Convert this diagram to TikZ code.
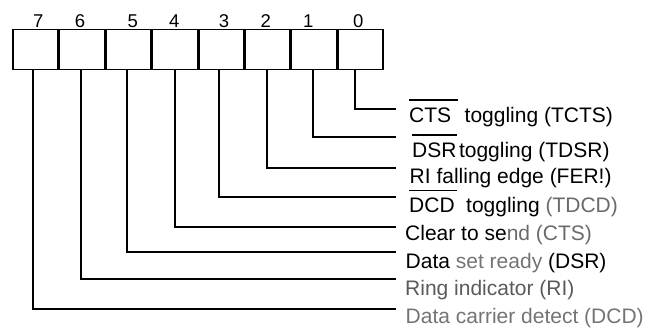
\documentclass[tikz,border=0pt]{standalone}
\usepackage{fontspec}
\setmainfont{Liberation Sans}
\definecolor{fadeA}{HTML}{6A6A6A}
\definecolor{fadeB}{HTML}{5A5A5A}
\definecolor{fadeC}{HTML}{747474}
\newlength\ovlw
\newcommand\ovl[2]{\settowidth\ovlw{#1}\addtolength\ovlw{#2}\rlap{\rule[21.5pt]{\ovlw}{1.4pt}}#1}
\begin{document}
\begin{tikzpicture}[x=1pt,y=-1pt,
  cell/.style={draw,line width=1.5pt,minimum width=44.94pt,minimum height=40pt,inner sep=0pt,outer sep=0pt},
  bitnum/.style={font=\fontsize{18.5}{18.5}\selectfont,inner sep=0pt},
  lbl/.style={font=\fontsize{21}{21}\selectfont,inner sep=0pt,anchor=base west},
  conn/.style={line width=1.6pt}]
\useasboundingbox (0,0) rectangle (647,329);
% register cells
\node[cell] (c7) at (35.47,49.3) {};
\node[cell] (c6) at (81.91,49.3) {};
\node[cell] (c5) at (128.35,49.3) {};
\node[cell] (c4) at (174.79,49.3) {};
\node[cell] (c3) at (221.23,49.3) {};
\node[cell] (c2) at (267.67,49.3) {};
\node[cell] (c1) at (314.11,49.3) {};
\node[cell] (c0) at (360.55,49.3) {};
% bit numbers
\node[bitnum] (d7) at (38.3,21) {7};
\node[bitnum] (d6) at (80,21) {6};
\node[bitnum] (d5) at (132.7,21) {5};
\node[bitnum] (d4) at (174.3,21) {4};
\node[bitnum] (d3) at (224,21) {3};
\node[bitnum] (d2) at (265.7,21) {2};
\node[bitnum] (d1) at (308.3,21) {1};
\node[bitnum] (d0) at (358.3,21) {0};
% connector ends
\coordinate (e0) at (396,109);
\coordinate (e1) at (396,137);
\coordinate (e2) at (396,168);
\coordinate (e3) at (396,197);
\coordinate (e4) at (396,227);
\coordinate (e5) at (396,252);
\coordinate (e6) at (396,279);
\coordinate (e7) at (396,309);
% connectors
\draw[conn] ([xshift=-5.5pt]c0.south) |- (e0);
\draw[conn] ([xshift=-1pt]c1.south) |- (e1);
\draw[conn] ([xshift=-0.7pt]c2.south) |- (e2);
\draw[conn] ([xshift=-2.2pt]c3.south) |- (e3);
\draw[conn] (c4.south) |- (e4);
\draw[conn] ([xshift=-1.4pt]c5.south) |- (e5);
\draw[conn] ([xshift=-1pt]c6.south) |- (e6);
\draw[conn] ([xshift=-2.5pt]c7.south) |- (e7);
% labels
\node[lbl] (l0) at (409,122) {\ovl{CTS}{7pt}\kern13.5pt toggling (TCTS)};
\node[lbl] (l1) at (412,157) {\ovl{DSR}{0pt}\kern2.5pt toggling (TDSR)};
\node[lbl] (l2) at (409.5,183) {RI falling edge (FER!)};
\node[lbl] (l3) at (409,212.5) {\ovl{DCD}{2pt}\kern11.5pt toggling {\color{fadeA}(TDCD)}};
\node[lbl] (l4) at (405,240) {Clear to se{\color{fadeA}nd (CTS)}};
\node[lbl] (l5) at (405.5,268) {Data {\color{fadeC}set ready} (DSR)};
\node[lbl,text=fadeB] (l6) at (405,295) {Ring indicator (RI)};
\node[lbl,text=fadeC] (l7) at (405.5,323) {Data carrier detect (DCD)};
\end{tikzpicture}
\end{document}
